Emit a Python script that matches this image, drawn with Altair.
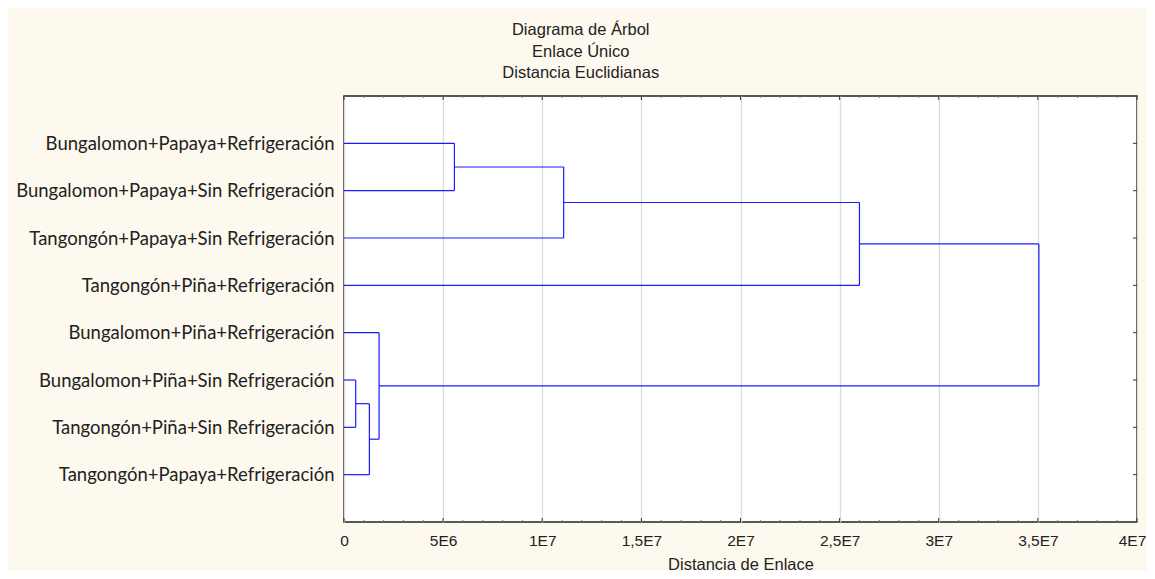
import altair as alt
import pandas as pd

# ---- data ----
leaves = [
    "Bungalomon+Papaya+Refrigeración",
    "Bungalomon+Papaya+Sin Refrigeración",
    "Tangongón+Papaya+Sin Refrigeración",
    "Tangongón+Piña+Refrigeración",
    "Bungalomon+Piña+Refrigeración",
    "Bungalomon+Piña+Sin Refrigeración",
    "Tangongón+Piña+Sin Refrigeración",
    "Tangongón+Papaya+Refrigeración",
]
# leaves are nodes 1..8, merges create nodes 9..15
merge_a = [1, 9, 10, 6, 12, 5, 11]
merge_b = [2, 3, 4, 7, 8, 13, 14]
merge_height = [5.57e6, 11.08e6, 26.0e6, 0.59e6, 1.28e6, 1.77e6, 35.05e6]

x_ticks = [0, 5e6, 1e7, 1.5e7, 2e7, 2.5e7, 3e7, 3.5e7, 4e7]
x_tick_labels = ["0", "5E6", "1E7", "1,5E7", "2E7", "2,5E7", "3E7", "3,5E7", "4E7"]
x_minor = [i * 1e6 for i in range(0, 41) if i % 5 != 0]

title_lines = ["Diagrama de Árbol", "Enlace Único", "Distancia Euclidianas"]
x_title = "Distancia de Enlace"

# ---- build dendrogram segments ----
pos = {i + 1: float(i + 1) for i in range(len(leaves))}
hgt = {i + 1: 0.0 for i in range(len(leaves))}
segs = []
for k, (a, b, h) in enumerate(zip(merge_a, merge_b, merge_height)):
    node = len(leaves) + 1 + k
    segs.append(dict(x=hgt[a], x2=h, y=pos[a], y2=pos[a]))
    segs.append(dict(x=hgt[b], x2=h, y=pos[b], y2=pos[b]))
    segs.append(dict(x=h, x2=h, y=pos[a], y2=pos[b]))
    pos[node] = (pos[a] + pos[b]) / 2
    hgt[node] = h
seg_df = pd.DataFrame(segs)

W, H = 793, 426
FONT_AX = "Liberation Sans"
FONT_NARROW = "Liberation Sans Narrow, Liberation Sans"
FONT_LBL = "Lato"


def cond_expr(values, labels, fmt):
    parts = []
    for v, l in zip(values, labels):
        parts.append(f"datum.value == {fmt(v)} ? '{l}' : ")
    return "".join(parts) + "''"


x_expr = cond_expr(x_ticks, x_tick_labels, lambda v: repr(float(v)))
y_vals = list(range(1, len(leaves) + 1))
y_expr = cond_expr(y_vals, leaves, lambda v: str(v))

xscale = alt.Scale(domain=[0, 4e7], nice=False, zero=False)
yscale = alt.Scale(domain=[0, 9], reverse=True, nice=False, zero=False)

last_tick_test = f"datum.value == {repr(float(x_ticks[-1]))}"

segments = alt.Chart(seg_df).mark_rule(color="#1a1aff", strokeWidth=1.2).encode(
    x=alt.X("x:Q", scale=xscale, axis=alt.Axis(
        values=x_ticks, labelExpr=x_expr, title=x_title, grid=True,
        gridColor="#dcdcdc", gridWidth=1.3, ticks=False, domain=False,
        labelFont=FONT_NARROW, labelFontSize=15.5, labelColor="#222",
        labelOffset={"condition": {"test": last_tick_test, "value": -5},
                     "value": 0},
        titleFont=FONT_AX, titleFontSize=16.5, titleFontWeight="normal",
        titleColor="#222", labelPadding=11, titleBaseline="alphabetic",
        titleY=47, labelFlush=False, labelOverlap=False)),
    x2="x2:Q",
    y=alt.Y("y:Q", scale=yscale, axis=alt.Axis(
        values=y_vals, labelExpr=y_expr, title=None, grid=False, ticks=False,
        domain=False, labelFont=FONT_LBL, labelFontSize=18.5, labelColor="#222",
        labelPadding=10, labelLimit=400, labelFlush=False, labelOverlap=False)),
    y2="y2:Q",
)

major_df = pd.DataFrame({"v": x_ticks})
minor_df = pd.DataFrame({"v": x_minor})
leaf_df = pd.DataFrame({"p": y_vals})

tick_col = "#333"
bottom_major = alt.Chart(major_df).mark_rule(color=tick_col).encode(
    x=alt.X("v:Q", scale=xscale), y=alt.value(H), y2=alt.value(H - 4))
bottom_minor = alt.Chart(minor_df).mark_rule(color="#777").encode(
    x=alt.X("v:Q", scale=xscale), y=alt.value(H), y2=alt.value(H - 2))
top_major = alt.Chart(major_df).mark_rule(color=tick_col).encode(
    x=alt.X("v:Q", scale=xscale), y=alt.value(0), y2=alt.value(4))
top_minor = alt.Chart(minor_df).mark_rule(color="#777").encode(
    x=alt.X("v:Q", scale=xscale), y=alt.value(0), y2=alt.value(2))
right_ticks = alt.Chart(leaf_df).mark_rule(color=tick_col).encode(
    y=alt.Y("p:Q", scale=yscale), x=alt.value(W), x2=alt.value(W - 4))

chart = alt.layer(
    segments, bottom_major, bottom_minor, top_major, top_minor, right_ticks
).properties(
    width=W, height=H,
    autosize=alt.AutoSizeParams(type="none"),
    padding={"left": 336, "top": 88, "right": 10, "bottom": 49},
    background="#fef9ee",
    title=alt.TitleParams(
        text=title_lines, anchor="middle", frame="bounds", font=FONT_AX,
        fontSize=16.5, fontWeight="normal", color="#222", lineHeight=21.5,
        offset=14),
).configure_view(
    stroke="#222", strokeWidth=1.5, fill="white"
)

chart.save("out.html", embed_options={"renderer": "svg", "actions": False})
